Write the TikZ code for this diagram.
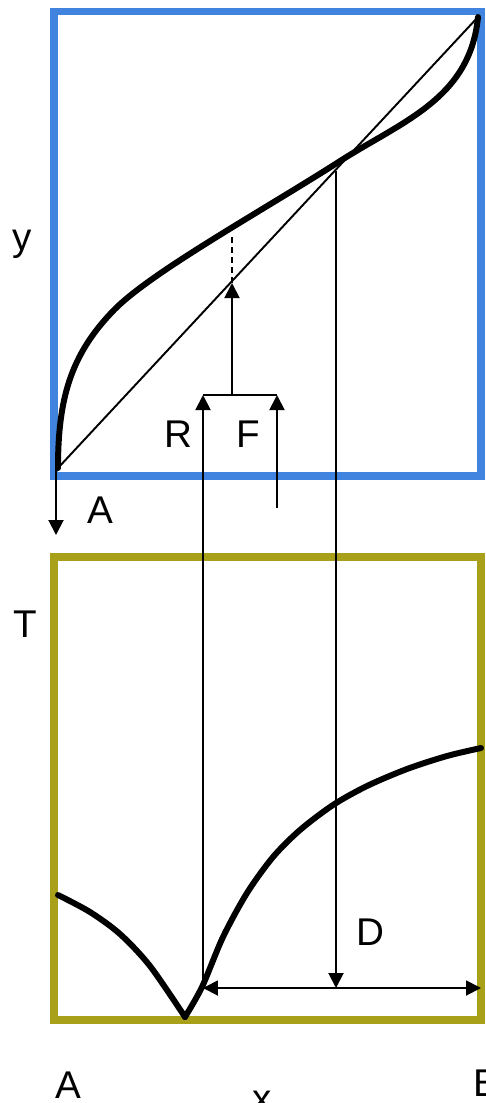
\documentclass[tikz,border=0pt]{standalone}
\usepackage{fontspec}
\setmainfont{Liberation Sans}
\usetikzlibrary{arrows.meta}
\definecolor{boxblue}{RGB}{64,132,224}
\definecolor{boxolive}{RGB}{168,160,24}

\begin{document}
\begin{tikzpicture}[x=0.02cm,y=-0.02cm,line width=1.1pt,
  tip/.style={-{Triangle[length=0.3cm,width=0.3cm]}},
  dimline/.style={{Triangle[length=0.3cm,width=0.3cm]}-{Triangle[length=0.3cm,width=0.3cm]}},
  curve/.style={line width=3.4pt,line join=round,line cap=round},
  lbl/.style={anchor=base,inner sep=0pt,font=\fontsize{22}{26}\selectfont}]
  \useasboundingbox (0,0) rectangle (485,1103);
  \draw[boxblue,line width=4pt] (54,11.5) rectangle (481,476);
  \draw[boxolive,line width=4pt] (54,557) rectangle (481,1020);

  \coordinate (O) at (58,468);
  \coordinate (E) at (478,17);
  \coordinate (Rtop) at (203,395);
  \coordinate (Ftop) at (277,395);
  \coordinate (Mid) at (232,395);
  \coordinate (Mdiag) at (232,283);
  \coordinate (Mcurve) at (232,234);
  \coordinate (Rbot) at (203,988);
  \coordinate (Fbot) at (277,508);
  \coordinate (Dtop) at (336,171);
  \coordinate (Dbot) at (336,988);
  \coordinate (Bend) at (481,988);
  \coordinate (Astart) at (56,464);
  \coordinate (Adown) at (56,535);
  \coordinate (Vmin) at (185,1017);

  \draw (O) -- (E);
  \draw[curve] (O) .. controls (58,400) and (70,355) .. (114,310)
    .. controls (150,273) and (260,212) .. (337,163)
    .. controls (400,122) and (470,100) .. (E);
  \draw[curve] plot[smooth,tension=0.5] coordinates {(58,895) (90,912) (120,934) (150,966) (185,1017)};
  \draw[curve] plot[smooth,tension=0.5] coordinates {(185,1017) (202,987) (223,937) (247,893)
    (273,857) (300,830) (333,805) (367,786) (407,769) (447,756) (481,748)};

  \draw[tip] (Rbot) -- (Rtop);
  \draw[tip] (Fbot) -- (Ftop);
  \draw (Rtop) -- (Ftop);
  \draw[tip] (Mid) -- (Mdiag);
  \draw[dash pattern=on 0.12cm off 0.08cm] (Mdiag) -- (Mcurve);
  \draw[tip] (Dtop) -- (Dbot);
  \draw[dimline] (Rbot) -- (Bend);
  \draw[tip] (Astart) -- (Adown);

  \node[lbl] (ylab) at (22,250) {y};
  \node[lbl] (alab) at (100,523) {A};
  \node[lbl] (rlab) at (178,447) {R};
  \node[lbl] (flab) at (248,447) {F};
  \node[lbl] (tlab) at (25,637) {T};
  \node[lbl] (dlab) at (370,945) {D};
  \node[lbl] (aend) at (68,1098) {A};
  \node[lbl] (xlab) at (262,1111) {x};
  \node[lbl] (bend) at (486,1096) {B};
\end{tikzpicture}
\end{document}
